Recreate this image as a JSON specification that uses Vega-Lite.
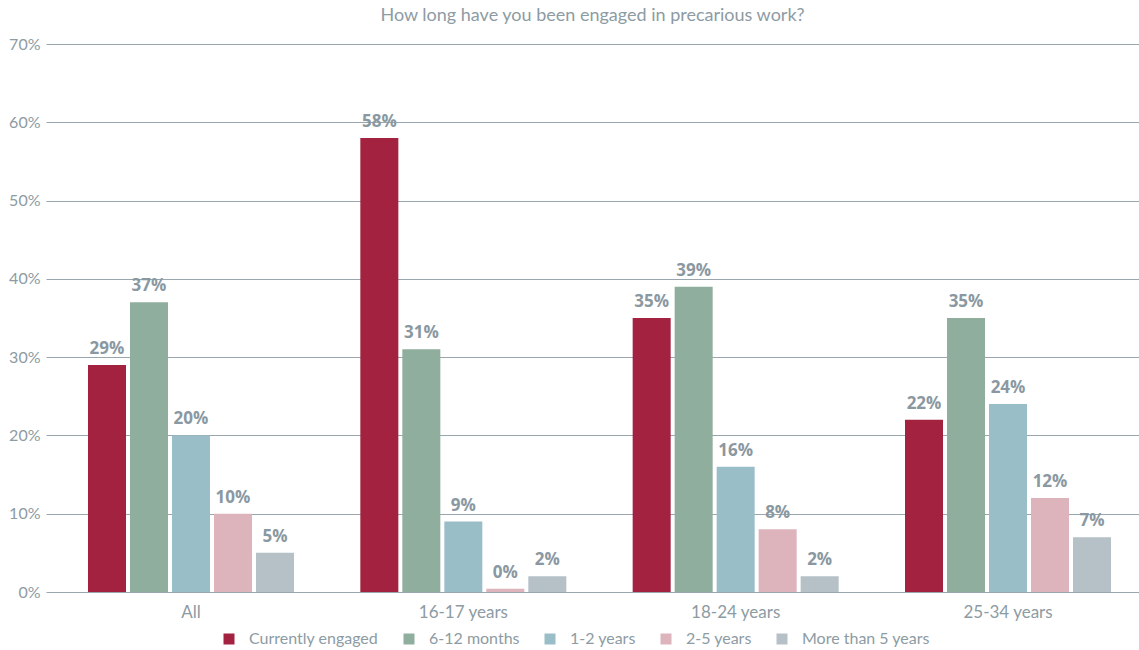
{
  "$schema": "https://vega.github.io/schema/vega-lite/v6.json",
  "width": 1093,
  "height": 548,
  "autosize": {"type": "none"},
  "padding": {"left": 46, "top": 44, "right": 0, "bottom": 58},
  "background": "white",
  "title": {
    "text": "How long have you been engaged in precarious work?",
    "anchor": "middle",
    "frame": "group",
    "fontSize": 18,
    "font": "Lato",
    "fontWeight": "normal",
    "color": "#8d9ba3",
    "offset": 11
  },
  "data": {
    "values": [
      {"group": "All", "period": "Currently engaged", "value": 0.29},
      {"group": "All", "period": "6-12 months", "value": 0.37},
      {"group": "All", "period": "1-2 years", "value": 0.20},
      {"group": "All", "period": "2-5 years", "value": 0.10},
      {"group": "All", "period": "More than 5 years", "value": 0.05},
      {"group": "16-17 years", "period": "Currently engaged", "value": 0.58},
      {"group": "16-17 years", "period": "6-12 months", "value": 0.31},
      {"group": "16-17 years", "period": "1-2 years", "value": 0.09},
      {"group": "16-17 years", "period": "2-5 years", "value": 0.004},
      {"group": "16-17 years", "period": "More than 5 years", "value": 0.02},
      {"group": "18-24 years", "period": "Currently engaged", "value": 0.35},
      {"group": "18-24 years", "period": "6-12 months", "value": 0.39},
      {"group": "18-24 years", "period": "1-2 years", "value": 0.16},
      {"group": "18-24 years", "period": "2-5 years", "value": 0.08},
      {"group": "18-24 years", "period": "More than 5 years", "value": 0.02},
      {"group": "25-34 years", "period": "Currently engaged", "value": 0.22},
      {"group": "25-34 years", "period": "6-12 months", "value": 0.35},
      {"group": "25-34 years", "period": "1-2 years", "value": 0.24},
      {"group": "25-34 years", "period": "2-5 years", "value": 0.12},
      {"group": "25-34 years", "period": "More than 5 years", "value": 0.07}
    ]
  },
  "encoding": {
    "x": {
      "field": "group",
      "type": "nominal",
      "sort": ["All", "16-17 years", "18-24 years", "25-34 years"],
      "scale": {"paddingInner": 0.2436, "paddingOuter": 0.1285, "align": 0.6},
      "axis": {
        "title": null,
        "labelAngle": 0,
        "labelFont": "Lato",
        "labelFontSize": 17,
        "labelFontWeight": "normal",
        "labelColor": "#8d9ba3",
        "labelPadding": 12,
        "ticks": false,
        "domain": false
      }
    },
    "xOffset": {
      "field": "period",
      "type": "nominal",
      "sort": ["Currently engaged", "6-12 months", "1-2 years", "2-5 years", "More than 5 years"],
      "scale": {"paddingInner": 0.095, "paddingOuter": 0}
    },
    "y": {
      "field": "value",
      "type": "quantitative",
      "scale": {"domain": [0, 0.7], "nice": false},
      "axis": {
        "title": null,
        "format": ".0%",
        "values": [0, 0.1, 0.2, 0.3, 0.4, 0.5, 0.6, 0.7],
        "labelFont": "Lato",
        "labelFontSize": 16,
        "labelFontWeight": "normal",
        "labelColor": "#8d9ba3",
        "labelPadding": 6,
        "ticks": false,
        "domain": false,
        "grid": true,
        "gridColor": "#9aa6ad",
        "gridWidth": 1
      }
    }
  },
  "layer": [
    {
      "mark": {"type": "bar"},
      "encoding": {
        "color": {
          "field": "period",
          "type": "nominal",
          "sort": ["Currently engaged", "6-12 months", "1-2 years", "2-5 years", "More than 5 years"],
          "scale": {
            "domain": ["Currently engaged", "6-12 months", "1-2 years", "2-5 years", "More than 5 years"],
            "range": ["#a32240", "#8fae9e", "#9abec8", "#ddb3bc", "#b5c0c7"]
          },
          "legend": {
            "title": null,
            "orient": "none",
            "direction": "horizontal",
            "legendX": 175,
            "legendY": 587,
            "symbolType": "square",
            "symbolSize": 121,
            "symbolStrokeWidth": 0,
            "labelFont": "Lato",
            "labelFontSize": 16,
            "labelFontWeight": "normal",
            "labelColor": "#8d9ba3",
            "labelOffset": 12,
            "columnPadding": 22
          }
        }
      }
    },
    {
      "mark": {
        "type": "text",
        "baseline": "bottom",
        "dy": -7,
        "font": "Open Sans",
        "fontSize": 17,
        "fontWeight": "bold",
        "color": "#8a98a1"
      },
      "encoding": {
        "text": {"field": "value", "type": "quantitative", "format": ".0%"}
      }
    }
  ],
  "config": {"view": {"stroke": null}}
}
